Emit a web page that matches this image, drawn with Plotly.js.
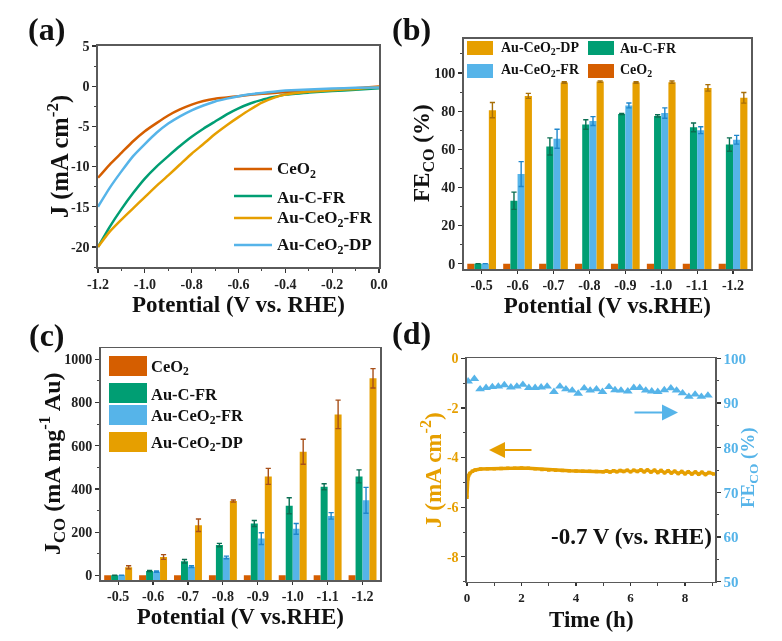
<!DOCTYPE html>
<html><head><meta charset="utf-8">
<script src="https://cdn.plot.ly/plotly-3.0.1.min.js"></script>
<style>html,body{margin:0;padding:0;background:#fff}#c{width:782px;height:641px;filter:blur(0.45px)}</style></head>
<body><div id="c"></div>
<script>
const RED='#D55E00',GREEN='#009E73',ORANGE='#E69F00',BLUE='#56B4E9';
const FONT='"Liberation Serif","Times New Roman",serif';
const W=782,H=641;

// (a)
const potA=[-1.2,-1.15,-1.1,-1.05,-1.0,-0.95,-0.9,-0.85,-0.8,-0.75,-0.7,-0.65,-0.6,-0.55,-0.5,-0.45,-0.4,-0.3,-0.2,-0.1,0];
const lsvCe=[-11.4,-9.75,-8.3,-6.85,-5.6,-4.6,-3.65,-2.9,-2.3,-1.85,-1.55,-1.4,-1.25,-1.08,-0.95,-0.85,-0.75,-0.55,-0.4,-0.25,-0.05];
const lsvC=[-20,-17.5,-15.3,-13.3,-11.5,-10.0,-8.7,-7.45,-6.3,-5.3,-4.4,-3.5,-2.75,-2.15,-1.7,-1.35,-1.05,-0.8,-0.6,-0.45,-0.25];
const lsvFR=[-20,-18.1,-16.6,-15.2,-13.8,-12.4,-11.1,-9.75,-8.4,-7.2,-5.95,-4.85,-3.85,-2.9,-2.05,-1.45,-1.05,-0.7,-0.5,-0.35,-0.1];
const lsvDP=[-15.0,-12.65,-10.6,-8.7,-7.2,-5.8,-4.65,-3.75,-3.0,-2.4,-1.9,-1.55,-1.25,-1.0,-0.85,-0.68,-0.55,-0.4,-0.3,-0.2,-0.15];
const tickVA=[-1.2,-1.0,-0.8,-0.6,-0.4,-0.2,0];
const tickVAText=['-1.2','-1.0','-0.8','-0.6','-0.4','-0.2','0.0'];
const tickJA=[5,0,-5,-10,-15,-20];
const tickJAText=['5','0','-5','-10','-15','-20'];

// (b) and (c)
const potCats=['-0.5','-0.6','-0.7','-0.8','-0.9','-1.0','-1.1','-1.2'];
const feCe=[0,0,0,0,0,0,0,0];
const feC=[0,33,61.5,73,78.5,77.5,71.5,62.5];
const feCErr=[null,4.5,4.5,2.5,0.3,0.6,2.3,3.5];
const feFR=[0,47,65.5,74.8,83,79,70,65];
const feFRErr=[null,6.5,5,2.3,1.3,2.7,1.8,2.3];
const feDP=[80.5,88,95,95.5,95,95.2,92.2,87];
const feDPErr=[4,1.3,0.4,0.4,0.4,0.6,1.7,2.8];
const jCe=[0,0,0,0,0,0,0,0];
const jC=[0,20,65,140,240,322,410,458];
const jCErr=[null,3,8,8,14,37,14,30];
const jFR=[0,17,40,83,170,215,275,347];
const jFRErr=[null,3,4,6,27,25,15,60];
const jDP=[37,85,232,344,458,572,745,912];
const jDPErr=[7,11,29,5,37,58,66,45];

// (d)
const timeJ=[0,0.01,0.03,0.06,0.1,0.2,0.3,0.5,0.75,1,1.25,1.5,1.75,2,2.25,2.5,2.75,3,3.25,3.5,3.75,4,4.25,4.5,4.75,5,5.12,5.25,5.38,5.5,5.62,5.75,5.88,6,6.12,6.25,6.38,6.5,6.62,6.75,6.88,7,7.12,7.25,7.38,7.5,7.62,7.75,7.88,8,8.12,8.25,8.38,8.5,8.62,8.75,8.88,9.05];
const currentJ=[-5.6,-5.0,-4.85,-4.72,-4.64,-4.55,-4.5,-4.46,-4.45,-4.45,-4.44,-4.43,-4.43,-4.42,-4.43,-4.45,-4.48,-4.5,-4.51,-4.52,-4.53,-4.54,-4.55,-4.55,-4.56,-4.57,-4.54,-4.58,-4.53,-4.57,-4.52,-4.56,-4.51,-4.57,-4.51,-4.56,-4.5,-4.57,-4.5,-4.58,-4.51,-4.6,-4.52,-4.61,-4.53,-4.62,-4.55,-4.64,-4.56,-4.65,-4.57,-4.66,-4.58,-4.67,-4.59,-4.68,-4.6,-4.66];
const timeFE=[0.04,0.27,0.48,0.70,0.93,1.15,1.37,1.61,1.83,2.05,2.27,2.50,2.72,2.94,3.19,3.41,3.63,3.86,4.08,4.30,4.52,4.75,4.97,5.21,5.43,5.65,5.90,6.12,6.34,6.56,6.78,7.0,7.24,7.48,7.69,7.91,8.14,8.37,8.60,8.84];
const stabFE=[94.85,95.4,93.1,93.4,93.6,93.7,94,93.5,93.7,94.1,93.4,93.4,93.5,93.7,92.5,93.7,93.1,92.8,92.1,93.3,92.8,93.1,92.5,93.6,92.9,92.8,92.6,93.4,93.4,92.8,92.6,92.5,92.9,93.3,92.8,92.2,91.4,91.9,91.4,91.7];
const tickJD=[0,-2,-4,-6,-8];
const tickJDText=['0','-2','-4','-6','-8'];

const px=v=>v/W, py=v=>1-v/H;
const line=(name,x,y,c)=>({type:'scatter',mode:'lines',name,x,y,xaxis:'x',yaxis:'y',
  line:{color:c,width:2.5,shape:'spline',smoothing:0.5},showlegend:false});
const bar=(name,vals,err,c,ec,base,xa,ya)=>({type:'bar',name,x:potCats,y:vals.map(v=>v-base),base,xaxis:xa,yaxis:ya,
  marker:{color:c,line:{width:0}},showlegend:false,
  error_y:err?{type:'data',array:err,visible:true,color:ec,thickness:1.4,width:2.6}:{visible:false}});

const bB=-2.8,bC=-21.7;
const data=[
  line('CeO2',potA,lsvCe,RED),line('Au-C-FR',potA,lsvC,GREEN),
  line('Au-CeO2-FR',potA,lsvFR,ORANGE),line('Au-CeO2-DP',potA,lsvDP,BLUE),
  bar('CeO2',feCe,null,RED,RED,bB,'x2','y2'),
  bar('Au-C-FR',feC,feCErr,GREEN,'#0B6E52',bB,'x2','y2'),
  bar('Au-CeO2-FR',feFR,feFRErr,BLUE,'#1F86CC',bB,'x2','y2'),
  bar('Au-CeO2-DP',feDP,feDPErr,ORANGE,'#A86F08',bB,'x2','y2'),
  bar('CeO2',jCe,null,RED,RED,bC,'x3','y3'),
  bar('Au-C-FR',jC,jCErr,GREEN,'#0B6E52',bC,'x3','y3'),
  bar('Au-CeO2-FR',jFR,jFRErr,BLUE,'#1F86CC',bC,'x3','y3'),
  bar('Au-CeO2-DP',jDP,jDPErr,ORANGE,'#A8501A',bC,'x3','y3'),
  {type:'scatter',mode:'lines+markers',x:timeJ,y:currentJ,xaxis:'x4',yaxis:'y4',showlegend:false,
   line:{color:ORANGE,width:3.4},marker:{color:ORANGE,size:3.5,symbol:'square'}},
  {type:'scatter',mode:'markers',x:timeFE,y:stabFE,xaxis:'x4',yaxis:'y5',showlegend:false,
   marker:{color:BLUE,size:8.5,symbol:'triangle-up'}}
];

const AX='#5a5a5a';
const base=(o)=>Object.assign({showgrid:false,zeroline:false,showline:true,mirror:true,linecolor:AX,linewidth:1.6,
  ticks:'outside',ticklen:4,tickwidth:1.2,tickcolor:'#333',
  tickfont:{family:FONT,size:14,color:'#222'}},o);
const minor=(d,c)=>({ticks:'outside',ticklen:2.5,tickwidth:1,tickcolor:c||'#444',dtick:d});
const tf=(size,c)=>({family:FONT,size,color:c||'#111',weight:'bold'});
const tickF=(size,c)=>({family:FONT,size,color:c||'#222',weight:'bold'});

const layout={width:W,height:H,margin:{l:0,r:0,t:0,b:0},paper_bgcolor:'#fff',plot_bgcolor:'#fff',
  barmode:'group',bargap:0.2,bargroupgap:0,showlegend:false,font:{family:FONT},
  xaxis:base({domain:[px(98),px(379)],range:[-1.2,0],tickvals:tickVA,ticktext:tickVAText,minor:minor(0.1),anchor:'y',
    tickfont:tickF(14),title:{text:'Potential (V vs. RHE)',font:tf(23),standoff:1}}),
  yaxis:base({domain:[py(267),py(46)],range:[-22.5,5],tickvals:tickJA,ticktext:tickJAText,minor:minor(2.5),anchor:'x',tickfont:tickF(14)}),
  xaxis2:base({domain:[px(463.7),px(751)],type:'category',range:[-0.5,7.5],anchor:'y2',ticklen:3,
    tickfont:tickF(14),title:{text:'Potential (V vs.RHE)',font:tf(23),standoff:0}}),
  yaxis2:base({domain:[py(269),py(38.7)],range:[bB,118],tickvals:[0,20,40,60,80,100],minor:minor(10),anchor:'x2',tickfont:tickF(14)}),
  xaxis3:base({domain:[px(100.7),px(380)],type:'category',range:[-0.5,7.5],anchor:'y3',ticklen:3,
    tickfont:tickF(14),title:{text:'Potential (V vs.RHE)',font:tf(23),standoff:0}}),
  yaxis3:base({domain:[py(580),py(348.3)],range:[bC,1051],tickvals:[0,200,400,600,800,1000],minor:minor(100),anchor:'x3',tickfont:tickF(14)}),
  xaxis4:base({domain:[px(467),px(715)],range:[0,9.1],dtick:2,tick0:0,minor:minor(1),anchor:'y4',ticklen:3,tickfont:tickF(13)}),
  yaxis4:base({domain:[py(581.7),py(358.3)],range:[-9,0],tickvals:tickJD,ticktext:tickJDText,minor:minor(1),anchor:'x4',mirror:false,tickfont:tickF(14,ORANGE)}),
  yaxis5:base({domain:[py(581.7),py(358.3)],range:[50,100],dtick:10,tick0:50,minor:minor(5),anchor:'x4',overlaying:'y4',side:'right',tickfont:tickF(15,BLUE)}),
  shapes:[],annotations:[]
};

const text=(t,x,y,size,c,anchor)=>layout.annotations.push({xref:'paper',yref:'paper',x:px(x),y:py(y),text:t,showarrow:false,
  xanchor:anchor||'left',yanchor:'middle',font:{family:FONT,size,color:c||'#111',weight:'bold'},borderpad:0,borderwidth:0});
const vtext=(t,x,y,size,c)=>layout.annotations.push({xref:'paper',yref:'paper',x:px(x),y:py(y),text:t,showarrow:false,textangle:-90,
  xanchor:'center',yanchor:'middle',font:{family:FONT,size,color:c||'#111',weight:'bold'},borderpad:0,borderwidth:0});
const rect=(x0,y0,x1,y1,c)=>layout.shapes.push({type:'rect',xref:'paper',yref:'paper',x0:px(x0),x1:px(x1),y0:py(y0),y1:py(y1),fillcolor:c,line:{width:0}});
const seg=(x0,x1,y,c)=>layout.shapes.push({type:'line',xref:'paper',yref:'paper',x0:px(x0),x1:px(x1),y0:py(y),y1:py(y),line:{color:c,width:2.4}});
const arrow=(tipX,tailX,y,c)=>layout.annotations.push({xref:'paper',yref:'paper',x:px(tipX),y:py(y),ax:tailX-tipX,ay:0,text:'',showarrow:true,
  arrowcolor:c,arrowwidth:2,arrowhead:2,arrowsize:1.6});

vtext('J (mA cm<sup>-2</sup>)',58,157,24.5);
vtext('FE<sub>CO</sub> (%)',423,153,23);
vtext('J<sub>CO</sub> (mA mg<sup>-1</sup> Au)',52,464,24);
vtext('J (mA cm<sup>-2</sup>)',431,470,23,ORANGE);
vtext('FE<sub>CO</sub> (%)',749,468,19,BLUE);
text('Time (h)',591,619,23,null,'center');

text('(a)',28,29,32); text('(b)',392,29,32); text('(c)',29,335,32); text('(d)',392,333,32);

[['CeO<sub>2</sub>',169,RED],['Au-C-FR',196,GREEN],['Au-CeO<sub>2</sub>-FR',218,ORANGE],['Au-CeO<sub>2</sub>-DP',245,BLUE]]
  .forEach(([t,y,c])=>{seg(234,272,y,c);text(t,277,y+1,17);});

[['Au-CeO<sub>2</sub>-DP',467,501,48,ORANGE],['Au-C-FR',588,620,48,GREEN],['Au-CeO<sub>2</sub>-FR',467,501,71,BLUE],['CeO<sub>2</sub>',588,620,71,RED]]
  .forEach(([t,x0,tx,y,c])=>{rect(x0,y-7,x0+26,y+7,c);text(t,tx,y,14);});

[['CeO<sub>2</sub>',366,RED],['Au-C-FR',393,GREEN],['Au-CeO<sub>2</sub>-FR',415,BLUE],['Au-CeO<sub>2</sub>-DP',442,ORANGE]]
  .forEach(([t,y,c])=>{rect(109,y-10,147,y+10,c);text(t,151,y+1,16.5);});

arrow(489,533,450,ORANGE);
arrow(678,633,412.6,BLUE);
text('-0.7 V (vs. RHE)',551,536,23);

Plotly.newPlot('c',data,layout,{staticPlot:true,displayModeBar:false});
</script></body></html>
